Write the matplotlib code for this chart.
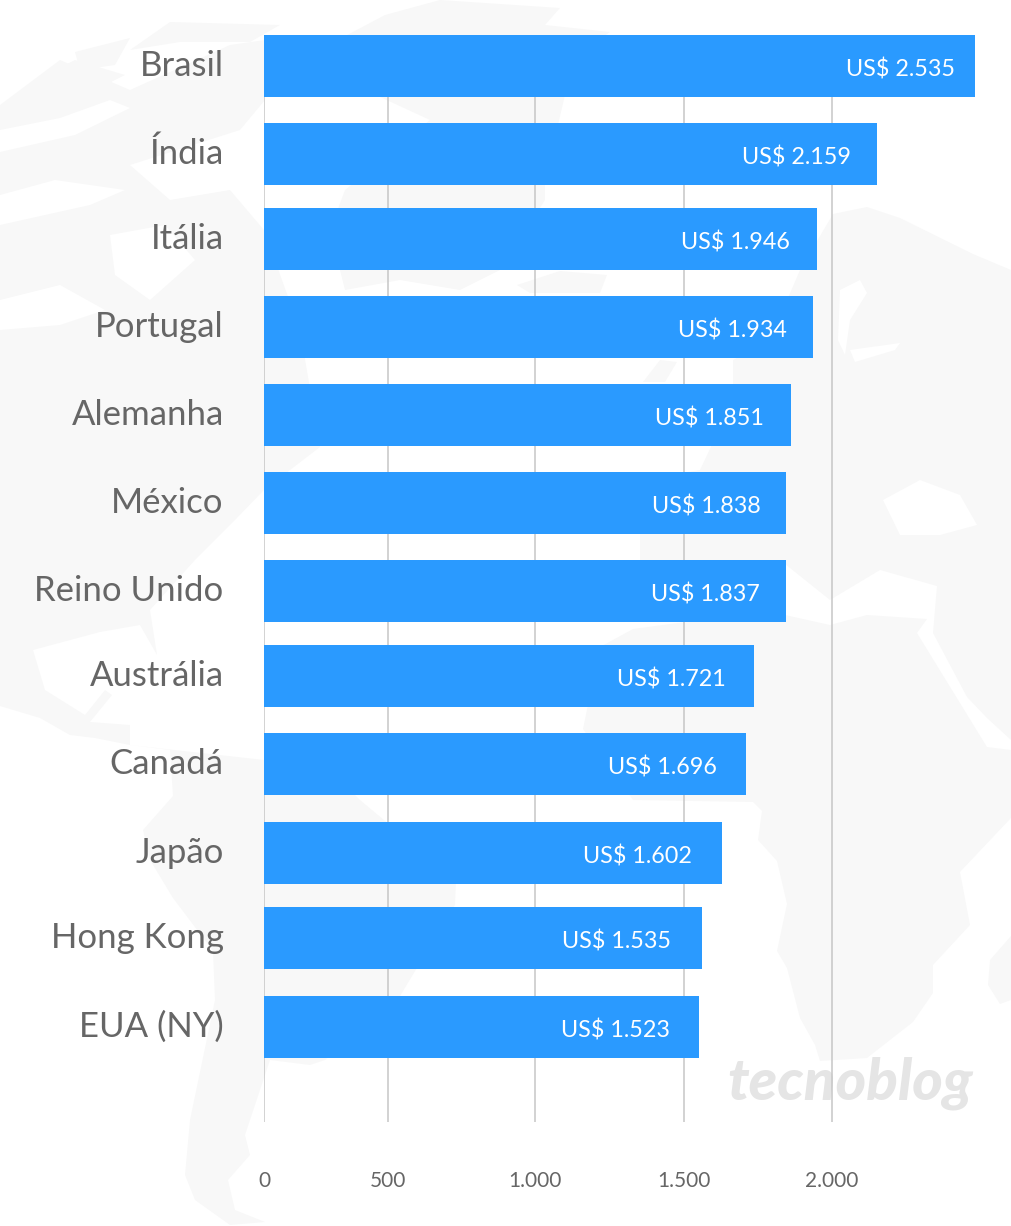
import numpy as np
import matplotlib.pyplot as plt
from matplotlib.patches import Polygon
from matplotlib.transforms import ScaledTranslation

plt.rcParams['font.family'] = ['Lato', 'DejaVu Sans']

W, H = 1011, 1226

# data
paises = ['Brasil', 'Índia', 'Itália', 'Portugal', 'Alemanha', 'México',
          'Reino Unido', 'Austrália', 'Canadá', 'Japão', 'Hong Kong', 'EUA (NY)']
# printed values
precos = [2535, 2159, 1946, 1934, 1851, 1838, 1837, 1721, 1696, 1602, 1535, 1523]
# bar lengths as read against the gridlines (they don't quite agree with the printed values)
barras = [2482, 2152, 1949, 1937, 1861, 1846, 1846, 1735, 1709, 1630, 1562, 1551]
ticks = [0, 500, 1000, 1500, 2000]
tick_labels = ['0', '500', '1.000', '1.500', '2.000']

# layout, in reference pixels
row_y = [66, 154, 239, 327, 415, 503, 591, 676, 764, 853, 938, 1027]
label_gap = [20, 26, 27, 26, 27, 26, 27, 28, 29, 31, 31, 29]
axis_px = [0, 123.5, 271, 420, 568, 747]      # the ticks in the original are not evenly spaced
axis_val = [0, 500, 1000, 1500, 2000, 2603]

# faint world map behind the chart (rough outlines, pixel coords)
mapa = [
    [(130, 50), (170, 22), (280, 25), (250, 42), (180, 42)],
    [(75, 52), (130, 38), (115, 65), (80, 70)],
    [(45, 75), (75, 60), (125, 75), (85, 95), (45, 100)],
    [(385, 15), (440, 0), (560, 8), (545, 25), (610, 32), (570, 60), (565, 95), (545, 180),
     (545, 200), (500, 270), (460, 290), (400, 280), (345, 290), (330, 230), (345, 190), (430, 120), (300, 60)],
    # north america
    [(0, 105), (60, 60), (130, 90), (230, 45), (265, 40), (265, 100), (240, 130), (130, 165), (170, 200),
     (230, 190), (264, 230), (300, 330), (320, 447), (264, 490), (235, 520), (195, 560), (150, 610), (157, 655),
     (140, 625), (100, 632), (33, 650), (45, 690), (85, 715), (105, 690), (112, 695), (90, 722), (130, 725),
     (130, 745), (95, 738), (70, 735), (40, 718), (0, 706)],
    # south america
    [(130, 745), (264, 760), (340, 780), (360, 800), (456, 880), (455, 905), (400, 996), (325, 1060), (310, 1065),
     (270, 1060), (245, 1135), (250, 1155), (228, 1180), (235, 1210), (265, 1222), (230, 1225), (195, 1200),
     (185, 1175), (190, 1120), (215, 1000), (213, 951), (173, 898), (150, 860), (143, 830), (173, 796), (170, 750)],
    # africa
    [(600, 647), (633, 629), (767, 611), (830, 625), (867, 615), (927, 619), (917, 633), (987, 747), (1011, 750),
     (1011, 818), (960, 872), (970, 925), (933, 965), (933, 993), (913, 1022), (867, 1058), (820, 1061), (815, 1045),
     (800, 1018), (787, 968), (777, 951), (787, 904), (777, 861), (758, 840), (762, 811), (753, 802), (633, 800),
     (583, 729)],
    [(990, 960), (1011, 936), (1011, 1000), (1000, 1004), (988, 985)],
    # eurasia
    [(833, 214), (867, 207), (900, 218), (973, 254), (1011, 270), (1011, 740), (987, 718), (967, 697), (933, 633),
     (937, 586), (880, 570), (830, 600), (780, 560), (640, 560), (640, 480), (700, 470), (733, 400), (733, 360),
     (770, 340), (800, 270)],
    [(517, 285), (560, 271), (607, 275), (600, 293), (530, 293)],
    [(643, 382), (660, 360), (677, 362), (665, 382)],
]
huecos = [
    [(883, 500), (920, 480), (960, 495), (977, 525), (940, 535), (900, 535)],
    [(850, 350), (900, 343), (895, 350), (855, 362)],
    [(840, 290), (860, 280), (867, 293), (850, 320), (845, 355), (838, 340)],
    # channels in the canadian arctic and hudson bay
    [(0, 130), (60, 118), (110, 100), (130, 108), (75, 135), (0, 152)],
    [(0, 195), (55, 180), (125, 190), (90, 205), (0, 225)],
    [(110, 235), (165, 225), (195, 260), (150, 300), (115, 275)],
    [(0, 300), (60, 285), (105, 310), (60, 325), (0, 330)],
]

fig = plt.figure(figsize=(W / 100, H / 100), dpi=100, facecolor='white')

# background
bg = fig.add_axes([0, 0, 1, 1])
bg.set_xlim(0, W)
bg.set_ylim(H, 0)
bg.axis('off')
for pts in mapa:
    bg.add_patch(Polygon(pts, closed=True, fc='#f8f8f8', ec='none'))
for pts in huecos:
    bg.add_patch(Polygon(pts, closed=True, fc='white', ec='none'))
bg.text(727, 1100, 'tecnoblog', fontsize=42, fontweight='black', fontstyle='italic',
        color='#e5e5e5', ha='left', va='baseline')

# chart, x scale follows the uneven gridlines
ax = fig.add_axes([264 / W, (H - 1122) / H, (W - 264) / W, (1122 - 35) / H])
ax.patch.set_alpha(0)
ax.set_xscale('function', functions=(lambda v: np.interp(v, axis_val, axis_px),
                                     lambda p: np.interp(p, axis_px, axis_val)))
ax.set_xlim(0, 2603)
ax.set_ylim(1122, 35)
ax.barh(row_y, barras, height=62, color='#2a9aff', zorder=3)

for y, v, p, gap in zip(row_y, barras, precos, label_gap):
    txt = 'US$ ' + f'{p:,}'.replace(',', '.')
    ax.annotate(txt, (v, y), xytext=(-gap * 0.72, -2.2), textcoords='offset points',
                ha='right', va='center', color='white', fontsize=16.8, zorder=4)

ax.set_xticks(ticks)
ax.set_xticklabels(tick_labels, fontsize=15, color='#666666')
ax.set_yticks(row_y)
ax.set_yticklabels(paises, fontsize=25, color='#666666')
ax.tick_params(axis='x', length=0, pad=35)
ax.tick_params(axis='y', length=0, pad=29)
ax.minorticks_off()
ax.grid(axis='x', color='#c6c6c6', linewidth=1.1, zorder=1)
ax.set_axisbelow(True)
for s in ax.spines.values():
    s.set_visible(False)

# country names sit a little above the bar centre
up = ScaledTranslation(0, 2.2 / 72, fig.dpi_scale_trans)
for lab in ax.get_yticklabels():
    lab.set_transform(lab.get_transform() + up)

fig.savefig('out.png', dpi=100)
